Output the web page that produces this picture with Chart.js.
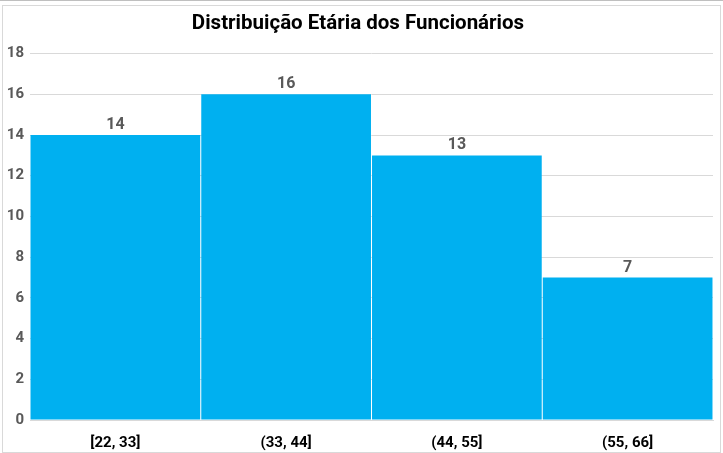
<!DOCTYPE html>
<html>
<head>
<meta charset="utf-8">
<script src="https://cdn.jsdelivr.net/npm/chart.js@4"></script>
<style>
  html, body { margin: 0; padding: 0; background: #fff; }
  body { width: 723px; height: 453px; border-top: 1px solid #bfbfbf; box-sizing: border-box; position: relative; }
  #wrap { position: absolute; left: 2px; top: 4px; width: 717px; height: 446px; border: 1px solid #d9d9d9; }
  canvas { display: block; }
</style>
</head>
<body>
<div id="wrap"><canvas id="chart" width="717" height="446"></canvas></div>
<script>
const chartTitle = "Distribuição Etária dos Funcionários";
const ageBins = ["[22, 33]", "(33, 44]", "(44, 55]", "(55, 66]"];
const employeeCounts = [14, 16, 13, 7];
const yTicks = [0, 2, 4, 6, 8, 10, 12, 14, 16, 18];

const fontFamily = "Roboto, 'Liberation Sans', sans-serif";

// writes the value above each bar
const barValues = {
  id: "barValues",
  afterDatasetsDraw(chart) {
    const ctx = chart.ctx;
    const meta = chart.getDatasetMeta(0);
    ctx.save();
    ctx.font = "bold 16px " + fontFamily;
    ctx.fillStyle = "#595959";
    ctx.textAlign = "center";
    ctx.textBaseline = "bottom";
    meta.data.forEach((bar, i) => {
      ctx.fillText(employeeCounts[i], bar.x, bar.y - 2);
    });
    ctx.restore();
  }
};

const ctx = document.getElementById("chart").getContext("2d");

new Chart(ctx, {
  type: "bar",
  data: {
    labels: ageBins,
    datasets: [{
      data: employeeCounts,
      backgroundColor: "#00B0F0",
      borderWidth: 0,
      barPercentage: 0.994,
      categoryPercentage: 1
    }]
  },
  options: {
    responsive: false,
    animation: false,
    layout: { padding: { right: 7 } },
    plugins: {
      legend: { display: false },
      tooltip: { enabled: false },
      title: {
        display: true,
        text: chartTitle,
        color: "#000",
        font: { family: fontFamily, size: 20.5, weight: "bold" },
        padding: { top: 6, bottom: 17 }
      }
    },
    scales: {
      x: {
        grid: { display: false },
        border: { display: true, color: "#d9d9d9" },
        ticks: {
          color: "#000",
          font: { family: fontFamily, size: 15, weight: "bold" },
          padding: 6
        },
        afterFit: s => { s.height = 32; }
      },
      y: {
        min: 0,
        max: 18,
        afterBuildTicks: s => { s.ticks = yTicks.map(v => ({ value: v })); },
        grid: { color: "#d9d9d9", drawTicks: false },
        border: { display: false },
        ticks: {
          color: "#595959",
          font: { family: fontFamily, size: 15, weight: "bold" },
          padding: 6
        },
        afterFit: s => { s.width = 27; }
      }
    }
  },
  plugins: [barValues]
});
</script>
</body>
</html>
